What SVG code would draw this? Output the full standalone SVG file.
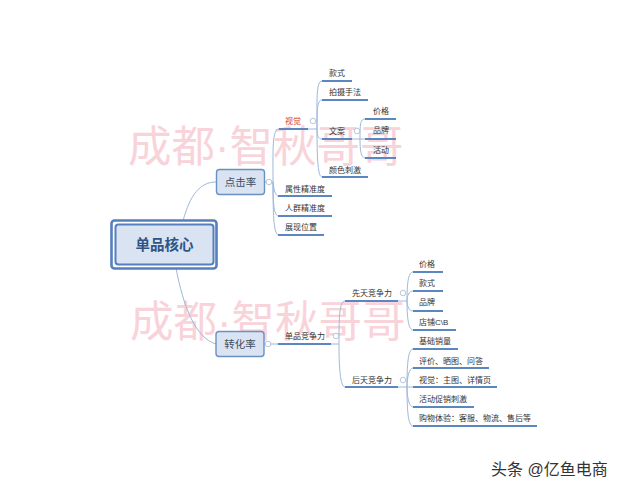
<svg xmlns="http://www.w3.org/2000/svg" width="620" height="493" viewBox="0 0 620 493">
<style>
text{font-family:"Liberation Sans","Noto Sans CJK SC",sans-serif}
.t{font-size:8px;fill:#333;dominant-baseline:central}
.wm{font-size:43.500px;fill:#f9d3da}
.u{stroke:#5b86c0;stroke-width:1.800;fill:none}
.l{stroke:#9db8da;stroke-width:1;fill:none}
.c{fill:#fff;stroke:#a9b9cc;stroke-width:.8}
.n{fill:#d9e3f2;stroke:#6a90c4;stroke-width:1.400}
.m{font-size:10.500px;fill:#3f4d63;text-anchor:middle;dominant-baseline:central}
</style>
<rect width="620" height="493" fill="#fff"/>
<text class="wm" x="128" y="162">成都·智秋哥哥</text>
<text class="wm" x="130" y="337">成都·智秋哥哥</text>
<g id="connectors">
<path class="l" d="M183 221C190 195 200 182 216 182"/>
<path class="l" d="M176 268C183 305 195 338 216 344"/>
<path class="l" d="M265 182H273M273 182C273 150 272 129 279 129M273 182C274 190 275 196 279 196M273 182C273 205 274 216 279 216M273 182C273 220 274 235 279 235"/>
<path class="l" d="M308 129H317M317 129C317 100 316 81 322 81M317 129C317 110 317 100 322 100M317 129C317 135 318 139 322 139M317 129C317 160 318 177 322 177"/>
<path class="l" d="M352 139H360M360 139C360 125 360 119 365 119M360 139H365M360 139C360 150 361 158 365 158"/>
<path class="l" d="M264 344H278M331 344H339M339 344C339 320 339 301 345 301M339 344C339 365 340 387 345 387"/>
<path class="l" d="M398 301H407M407 301C407 285 408 272 413 272M407 301C407 296 409 291 413 291M407 301C407 306 409 311 413 311M407 301C407 315 408 330 413 330"/>
<path class="l" d="M398 387H407M407 387C407 365 408 349 413 349M407 387C407 378 409 368 413 368M407 387H413M407 387C407 397 409 407 413 407M407 387C407 410 408 426 413 426"/>
<g id="underlines">
<path class="u" d="M279 129H308M322 81H352M322 100H368M322 139H352M322 177H368M365 119H396M365 139H396M365 158H396M278 196H332M278 216H332M278 235H324M278 344H331M345 301H398M345 387H398M413 272H443M413 291H443M413 311H443M413 330H456M413 349H458M413 368H489M413 387H497M413 407H474M413 426H537"/>
</g>
</g>
<g id="central"><rect x="111.500" y="220.500" width="105" height="48" rx="3" fill="#fff" stroke="#567fbe" stroke-width="2.600"/><rect x="115.500" y="224.500" width="98" height="40" rx="3" fill="#d9e3f2" stroke="#567fbe" stroke-width="2"/><text x="164.500" y="244.500" font-size="14.500" font-weight="700" fill="#2f5486" text-anchor="middle" dominant-baseline="central">单品核心</text></g>
<g id="click"><rect class="n" x="216.500" y="169.500" width="48" height="25" rx="3"/><text class="m" x="240.500" y="181.500">点击率</text><circle class="c" cx="269" cy="182" r="2.800"/></g>
<g id="conv"><rect class="n" x="216" y="331.500" width="48" height="25" rx="3"/><text class="m" x="240" y="343.500">转化率</text><circle class="c" cx="268" cy="344" r="2.800"/></g>
<g id="n-shijue"><text class="t" x="285" y="121" style="fill:#cf423c">视觉</text><circle class="c" cx="313" cy="121" r="2.800"/></g>
<g id="n-kuanshi"><text class="t" x="329" y="73">款式</text></g>
<g id="n-paishe"><text class="t" x="329" y="92">拍摄手法</text></g>
<g id="n-wenan"><text class="t" x="329" y="131">文案</text><circle class="c" cx="357" cy="131" r="2.800"/></g>
<g id="n-jiage"><text class="t" x="373" y="111">价格</text></g>
<g id="n-pinpai"><text class="t" x="373" y="130">品牌</text></g>
<g id="n-huodong"><text class="t" x="373" y="150">活动</text></g>
<g id="n-yanse"><text class="t" x="329" y="170">颜色刺激</text></g>
<g id="n-shuxing"><text class="t" x="285" y="189">属性精准度</text></g>
<g id="n-renqun"><text class="t" x="285" y="208">人群精准度</text></g>
<g id="n-zhanxian"><text class="t" x="285" y="227">展现位置</text></g>
<g id="n-jingzheng"><text class="t" x="285" y="336.500">单品竞争力</text><circle class="c" cx="336" cy="336" r="2.800"/></g>
<g id="n-xiantian"><text class="t" x="352" y="293">先天竞争力</text><circle class="c" cx="403" cy="293" r="2.800"/></g>
<g id="n-houtian"><text class="t" x="352" y="380">后天竞争力</text><circle class="c" cx="403" cy="380" r="2.800"/></g>
<g id="n-a1"><text class="t" x="419" y="264">价格</text></g>
<g id="n-a2"><text class="t" x="419" y="283">款式</text></g>
<g id="n-a3"><text class="t" x="419" y="302">品牌</text></g>
<g id="n-a4"><text class="t" x="419" y="322">店铺C\B</text></g>
<g id="n-b1"><text class="t" x="419" y="341">基础销量</text></g>
<g id="n-b2"><text class="t" x="419" y="361">评价、晒图、问答</text></g>
<g id="n-b3"><text class="t" x="419" y="380">视觉：主图、详情页</text></g>
<g id="n-b4"><text class="t" x="419" y="399">活动促销刺激</text></g>
<g id="n-b5"><text class="t" x="419" y="418">购物体验：客服、物流、售后等</text></g>
<text x="491" y="475" font-size="16" fill="#333">头条 @亿鱼电商</text>
</svg>
